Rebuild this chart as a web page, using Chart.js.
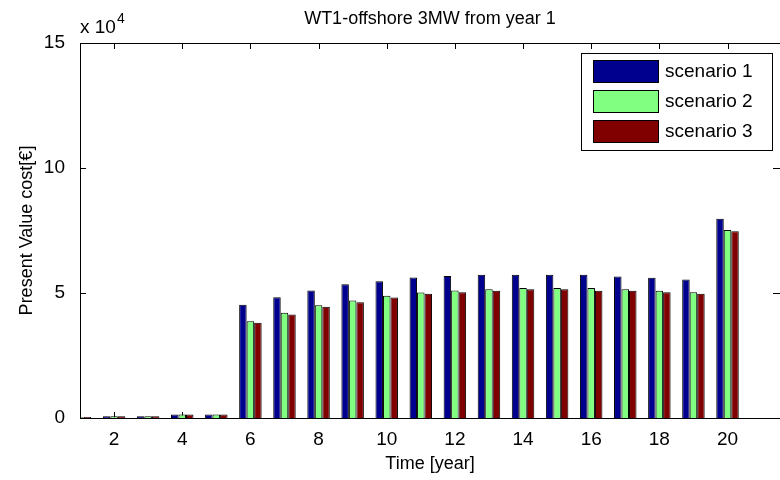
<!DOCTYPE html>
<html>
<head>
<meta charset="utf-8">
<script src="https://cdn.jsdelivr.net/npm/chart.js@4.4.1/dist/chart.umd.min.js"></script>
<style>
  html, body { margin: 0; padding: 0; background: #fff; }
  canvas { display: block; }
</style>
</head>
<body>
<canvas id="chart" width="780" height="480"></canvas>
<script>
// data
const years = [1, 2, 3, 4, 5, 6, 7, 8, 9, 10, 11, 12, 13, 14, 15, 16, 17, 18, 19, 20];
const scenario1 = [300, 700, 700, 1400, 1400, 45300, 48300, 51000, 53500, 54700, 56200, 56800, 57300, 57300, 57300, 57300, 56600, 56100, 55400, 79700];
const scenario2 = [300, 700, 700, 1400, 1400, 38700, 42100, 45100, 47000, 48900, 50200, 51000, 51500, 52000, 52000, 52000, 51500, 50900, 50300, 75200];
const scenario3 = [400, 700, 700, 1400, 1400, 38100, 41400, 44500, 46300, 48200, 49700, 50300, 50900, 51500, 51500, 50900, 50900, 50300, 49700, 74700];
const seriesNames = ['scenario 1', 'scenario 2', 'scenario 3'];
const seriesColors = ['#00008f', '#80ff80', '#800000'];
const xTicks = [2, 4, 6, 8, 10, 12, 14, 16, 18, 20];
const yTicks = [0, 50000, 100000, 150000];
const chartTitle = 'WT1-offshore 3MW from year 1';

const FONT = '"Liberation Sans", Arial, sans-serif';
Chart.defaults.font.family = FONT;
Chart.defaults.color = '#000';

const toPoints = vals => vals.map((v, i) => ({ x: years[i], y: v }));
const RIGHT = 780;

// matlab style inward ticks, drawn under the bars
const matlabTicks = {
  id: 'matlabTicks',
  beforeDatasetsDraw(chart) {
    const ctx = chart.ctx;
    const a = chart.chartArea;
    const xs = chart.scales.x, ys = chart.scales.y;
    ctx.save();
    ctx.strokeStyle = '#000';
    ctx.lineWidth = 1;
    ctx.beginPath();
    xTicks.forEach(v => {
      const px = Math.round(xs.getPixelForValue(v)) + 0.5;
      ctx.moveTo(px, a.bottom); ctx.lineTo(px, a.bottom - 6);
      ctx.moveTo(px, a.top); ctx.lineTo(px, a.top + 6);
    });
    yTicks.forEach(v => {
      const py = Math.round(ys.getPixelForValue(v)) + 0.5;
      ctx.moveTo(a.left, py); ctx.lineTo(a.left + 6, py);
      ctx.moveTo(RIGHT, py); ctx.lineTo(RIGHT - 7, py);
    });
    ctx.stroke();
    ctx.restore();
  }
};

// box, legend, exponent label and title
const matlabFrame = {
  id: 'matlabFrame',
  afterDraw(chart) {
    const ctx = chart.ctx;
    const a = chart.chartArea;
    ctx.save();
    ctx.strokeStyle = '#000';
    ctx.lineWidth = 1;
    ctx.beginPath();
    ctx.moveTo(Math.round(a.left) + 0.5, Math.round(a.top));
    ctx.lineTo(Math.round(a.left) + 0.5, Math.round(a.bottom) + 0.5);
    ctx.lineTo(RIGHT, Math.round(a.bottom) + 0.5);
    ctx.moveTo(Math.round(a.left), Math.round(a.top) + 0.5);
    ctx.lineTo(RIGHT, Math.round(a.top) + 0.5);
    ctx.stroke();

    // title
    ctx.fillStyle = '#000';
    ctx.font = '18px ' + FONT;
    ctx.textAlign = 'center';
    ctx.textBaseline = 'middle';
    ctx.fillText(chartTitle, (a.left + RIGHT) / 2, 19);

    // exponent label
    ctx.textAlign = 'left';
    ctx.textBaseline = 'alphabetic';
    ctx.font = '19px ' + FONT;
    ctx.fillText('x 10', a.left, 33);
    const w = ctx.measureText('x 10').width;
    ctx.font = '14px ' + FONT;
    ctx.fillText('4', a.left + w + 1, 23);

    // legend
    const lx = 581, ly = 53, lw = 191, lh = 97;
    ctx.fillStyle = '#fff';
    ctx.fillRect(lx, ly, lw, lh);
    ctx.strokeRect(lx + 0.5, ly + 0.5, lw, lh);
    const rowsY = [71, 101, 131];
    ctx.font = '19px ' + FONT;
    ctx.textBaseline = 'middle';
    seriesNames.forEach((name, i) => {
      ctx.fillStyle = seriesColors[i];
      ctx.fillRect(593, rowsY[i] - 11, 65, 22);
      ctx.strokeRect(593.5, rowsY[i] - 10.5, 65, 22);
      ctx.fillStyle = '#000';
      ctx.fillText(name, 665, rowsY[i] + 1);
    });
    ctx.restore();
  }
};

new Chart(document.getElementById('chart'), {
  type: 'bar',
  data: {
    datasets: [scenario1, scenario2, scenario3].map((vals, i) => ({
      label: seriesNames[i],
      data: toPoints(vals),
      backgroundColor: seriesColors[i],
      borderColor: '#000',
      borderWidth: 1,
      barPercentage: 1.0,
      categoryPercentage: 0.66
    }))
  },
  options: {
    responsive: false,
    animation: false,
    devicePixelRatio: 1,
    layout: { padding: { top: 43, right: 0, left: 0, bottom: 0 } },
    plugins: {
      legend: { display: false },
      tooltip: { enabled: false },
      title: { display: false }
    },
    scales: {
      x: {
        type: 'linear',
        offset: false,
        min: 1,
        max: 21.54,
        grid: { display: false },
        border: { display: false },
        afterBuildTicks: s => { s.ticks = xTicks.map(v => ({ value: v })); },
        afterFit: s => { s.height = 62; },
        ticks: {
          font: { size: 19 },
          padding: 2,
          maxRotation: 0,
          callback: v => String(v)
        },
        title: {
          display: true,
          text: 'Time [year]',
          font: { size: 18 },
          padding: { top: 0, bottom: 5 }
        }
      },
      y: {
        min: 0,
        max: 150000,
        grid: { display: false },
        border: { display: false },
        afterBuildTicks: s => { s.ticks = yTicks.map(v => ({ value: v })); },
        afterFit: s => { s.width = 80; },
        ticks: {
          font: { size: 19 },
          padding: 7,
          callback: v => String(v / 10000)
        },
        title: {
          display: true,
          text: 'Present Value cost[€]',
          font: { size: 18 },
          padding: { top: 16, bottom: 0 }
        }
      }
    }
  },
  plugins: [matlabTicks, matlabFrame]
});
</script>
</body>
</html>
